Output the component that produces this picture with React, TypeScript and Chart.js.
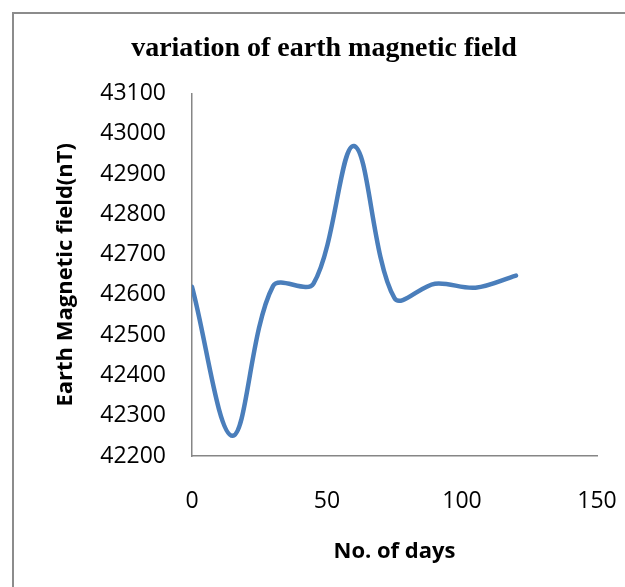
import React, { useEffect, useRef } from "react";
import { Chart, registerables } from "chart.js";

Chart.register(...registerables);

const days = [0, 15, 30, 45, 60, 75, 90, 105, 120];
const fieldNT = [42620, 42250, 42622, 42628, 42970, 42592, 42628, 42618, 42648];
const xTicks = [0, 50, 100, 150];
const yTicks = [42200, 42300, 42400, 42500, 42600, 42700, 42800, 42900, 43000, 43100];

const framePlugin = {
  id: "frame",
  beforeDraw(chart: any) {
    const ctx = chart.ctx;
    ctx.save();
    ctx.fillStyle = "#ffffff";
    ctx.fillRect(0, 0, chart.width, chart.height);
    ctx.strokeStyle = "#8c8c8c";
    ctx.lineWidth = 2;
    ctx.beginPath();
    ctx.moveTo(13, chart.height);
    ctx.lineTo(13, 13);
    ctx.lineTo(chart.width, 13);
    ctx.stroke();
    ctx.restore();
  },
};

export default function App() {
  const ref = useRef<HTMLCanvasElement | null>(null);
  useEffect(() => {
    if (!ref.current) return;
    const chart = new Chart(ref.current, {
      type: "line",
      data: {
        datasets: [
          {
            label: "Earth Magnetic field",
            data: days.map((d, i) => ({ x: d, y: fieldNT[i] })),
            borderColor: "#4a7ebb",
            borderWidth: 4.5,
            pointRadius: 0,
            tension: 0.35,
            fill: false,
            borderCapStyle: "round",
          },
        ],
      },
      options: {
        animation: false,
        responsive: false,
        layout: { padding: { left: 51, right: 28, top: 0, bottom: 0 } },
        plugins: {
          legend: { display: false },
          tooltip: { enabled: false },
          title: {
            display: true,
            text: "variation of earth magnetic field",
            color: "#000000",
            font: { family: "'Liberation Serif', 'Times New Roman', serif", size: 28, weight: "bold", lineHeight: 1.2 },
            padding: { top: 32, bottom: 28 },
          },
        },
        scales: {
          x: {
            type: "linear",
            min: 0,
            max: 150,
            afterBuildTicks: (s: any) => { s.ticks = xTicks.map((v) => ({ value: v })); },
            grid: { display: false, drawTicks: false },
            border: { display: true, color: "#868686", width: 1.5 },
            ticks: {
              color: "#000000",
              padding: 32,
              font: { family: "'Open Sans', sans-serif", size: 23 },
            },
            title: {
              display: true,
              text: "No. of days",
              color: "#000000",
              font: { family: "'Open Sans', sans-serif", size: 22, weight: "bold", lineHeight: 1.2 },
              padding: { top: 0, bottom: 22 },
            },
            afterFit: (s: any) => { s.height = 131; s.paddingLeft = 0; s.paddingRight = 0; },
          },
          y: {
            type: "linear",
            min: 42200,
            max: 43100,
            afterBuildTicks: (s: any) => { s.ticks = yTicks.map((v) => ({ value: v })); },
            grid: { display: false, drawTicks: false },
            border: { display: true, color: "#868686", width: 1.5 },
            ticks: {
              color: "#000000",
              padding: 26,
              font: { family: "'Open Sans', sans-serif", size: 23 },
              callback: (v: any) => String(v),
            },
            title: {
              display: true,
              text: "Earth Magnetic field(nT)",
              color: "#000000",
              font: { family: "'Open Sans', sans-serif", size: 22, weight: "bold", lineHeight: 1.0 },
              padding: { top: 4, bottom: 0 },
            },
            afterFit: (s: any) => { s.width = 192 - 51; },
          },
        },
      },
      plugins: [framePlugin],
    });
    return () => chart.destroy();
  }, []);
  return (
    <div style={{ position: "fixed", left: 0, top: 0, width: 625, height: 587, background: "#fff" }}>
      <canvas ref={ref} width={625} height={587} style={{ display: "block", width: 625, height: 587 }} />
    </div>
  );
}
